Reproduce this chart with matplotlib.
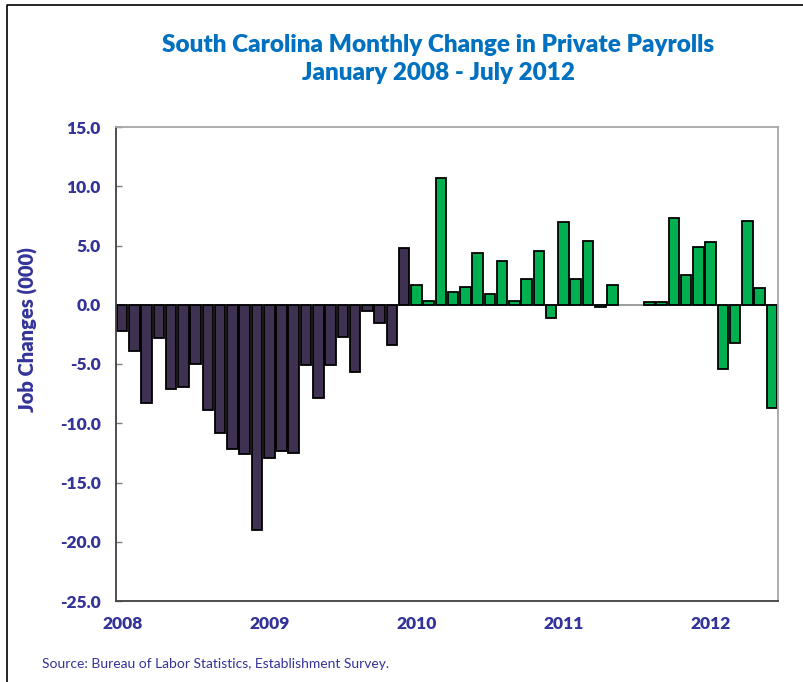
import numpy as np
import matplotlib
matplotlib.use("Agg")
import matplotlib.pyplot as plt
from matplotlib.lines import Line2D

# monthly change in private payrolls, thousands (Jan 2008 onward)
changes_2008_2009 = [
    -2.2, -3.9, -8.3, -2.8, -7.1, -6.9, -5.0, -8.9, -10.8, -12.2, -12.6, -19.0,
    -12.9, -12.3, -12.5, -5.1, -7.9, -5.1, -2.7, -5.7, -0.5, -1.5, -3.4, 4.8,
]
changes_2010_2012 = [
    1.7, 0.3, 10.7, 1.1, 1.5, 4.4, 0.9, 3.7, 0.3, 2.2, 4.5, -1.1,
    7.0, 2.2, 5.4, -0.2, 1.7, np.nan, np.nan, 0.2, 0.2, 7.3, 2.5, 4.9,
    5.3, -5.4, -3.2, 7.1, 1.4, -8.7,
]
year_labels = ["2008", "2009", "2010", "2011", "2012"]
y_ticks = [-25, -20, -15, -10, -5, 0, 5, 10, 15]

TITLE = "South Carolina Monthly Change in Private Payrolls\nJanuary 2008 - July 2012"
SOURCE = "Source: Bureau of Labor Statistics, Establishment Survey."

TITLE_BLUE = "#0070C0"
LABEL_BLUE = "#333399"
PURPLE = "#3F3152"
GREEN = "#00B050"

plt.rcParams["font.family"] = ["Lato", "DejaVu Sans"]

fig = plt.figure(figsize=(8.04, 6.82), dpi=100)
ax = fig.add_axes([116 / 804, 81 / 682, 662 / 804, 474 / 682])

n_first = len(changes_2008_2009)
x_first = np.arange(n_first)
x_second = np.arange(n_first, n_first + len(changes_2010_2012))

ax.axhline(0, color="#8C8C8C", linewidth=1.2, zorder=1)
ax.bar(x_first, changes_2008_2009, width=0.86, color=PURPLE,
       edgecolor="black", linewidth=1.3, zorder=2)
ax.bar(x_second, changes_2010_2012, width=0.86, color=GREEN,
       edgecolor="black", linewidth=1.3, zorder=2)

ax.set_xlim(-0.5, n_first + len(changes_2010_2012) - 0.5)
ax.set_ylim(-25, 15)
ax.set_yticks(y_ticks)
ax.set_yticklabels([f"{v:.1f}" for v in y_ticks])
ax.set_xticks(np.arange(len(year_labels)) * 12)
ax.set_xticklabels(year_labels)

ax.tick_params(axis="y", direction="in", length=4, width=1, color="#7F7F7F",
               pad=11, labelsize=12.5, labelcolor=LABEL_BLUE)
ax.tick_params(axis="x", length=0, pad=11, labelsize=12.5, labelcolor=LABEL_BLUE)
for lab in ax.get_xticklabels() + ax.get_yticklabels():
    lab.set_fontweight("heavy")

for side in ("left", "bottom"):
    ax.spines[side].set_color("#404040")
    ax.spines[side].set_linewidth(1.3)
for side in ("top", "right"):
    ax.spines[side].set_color("#A6A6A6")
    ax.spines[side].set_linewidth(1.3)

fig.text(28 / 804, 1 - 330 / 682, "Job Changes (000)", rotation=90,
         ha="center", va="center", fontsize=14.5, fontweight="heavy", color=LABEL_BLUE)
fig.text(438 / 804, 1 - 59 / 682, TITLE, ha="center", va="center",
         fontsize=17.5, fontweight="heavy", color=TITLE_BLUE, linespacing=1.32)
fig.text(42 / 804, 1 - 664 / 682, SOURCE, ha="left", va="center",
         fontsize=10, color=LABEL_BLUE)

# outer chart frame (cut off at the right and bottom edges)
fig.add_artist(Line2D([7 / 804, 7 / 804, 1.0], [0.0, 1 - 5 / 682, 1 - 5 / 682],
                      transform=fig.transFigure, color="black", linewidth=1.2))

fig.savefig("out.png", dpi=100, facecolor="white")
